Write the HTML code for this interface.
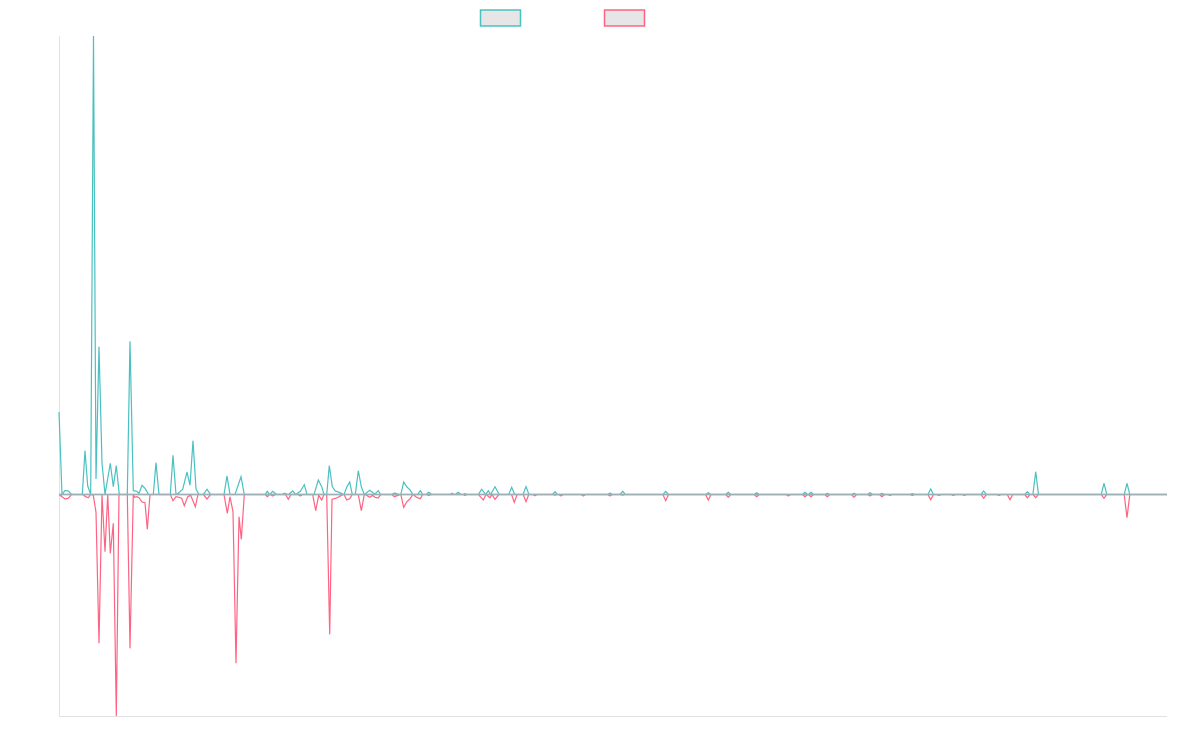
<!DOCTYPE html>
<html>
<head>
<meta charset="utf-8">
<style>
html,body{margin:0;padding:0;background:#ffffff;}
svg{display:block;}
</style>
</head>
<body>
<svg width="1200" height="750" viewBox="0 0 1200 750" xmlns="http://www.w3.org/2000/svg">
<rect width="1200" height="750" fill="#ffffff"/>
<!-- legend -->
<rect x="480.5" y="10" width="40" height="16" fill="#e6e6e6" stroke="#4bc0c0" stroke-width="1.5"/>
<rect x="604.5" y="10" width="40" height="16" fill="#e6e6e6" stroke="#ff6384" stroke-width="1.5"/>
<!-- axes -->
<line x1="59.5" y1="36" x2="59.5" y2="716" stroke="#e2e2e2" stroke-width="1"/>
<line x1="59" y1="716.5" x2="1167" y2="716.5" stroke="#e2e2e2" stroke-width="1"/>

<!-- teal series -->
<polyline fill="none" stroke="#4bc0c0" stroke-width="1.2" stroke-linejoin="miter" points="
59,412 62,494.5 65,490.5 68.3,491 71.7,494.5 82.3,494.5 85,450.7 87.7,486 90.7,494.5 93.5,36 96,479 99,346.7 102,463 105,494.5
110.3,463.3 113.3,486.7 116.3,465.7 119.3,494.5 127.3,494.5 130,341.3 133.3,490.7 136.7,491.3 139,493.3 142,485.3 145,488.3 148.7,494.5
153.3,494.5 156,462.7 159,494.5 170.3,494.5 173,455.3 176,494.5 179,492.7 182.7,489.3 187,472 190,485.3 193,440.7 196,489 199,494.5
203.3,494.5 207,489.3 210.7,494.5 224,494.5 227,476 230,494.5 235,494.5 241,476.7 244.3,494.5
265,494.5 267.3,491.3 269.7,494.5 272.7,491.3 276,494 281.5,494.5 284.3,493.3 288.3,494.5 292.7,491 295.7,494.5 300.3,491.3 304.3,484.7 307,494.5
314,494.5 318.3,480 321.7,486.7 324,494.5 326.7,494.5 329.3,465.7 332.3,486.7 335.3,491 340,492.7 344,494.5 346.7,487.3 349.7,482 352.3,494.5
355.3,494.5 358.3,470.7 361.3,486.7 364.3,494.5 366.7,492.7 369.7,490.3 373,492.7 375,494 378.3,490.7 380.7,494.5
391.5,494.5 394.3,493 397.7,494 400.8,494.5 403.7,482 406.7,486.7 410,490 413,494.5 417.5,494.5 420.3,490.7 422.7,494.5
426,494.5 428.7,492.3 431.7,494.3 449,494.5 452,493.3 455,494.5 458.3,492.3 461,494.5 462.5,494.5 465,493.5 467.5,494.5
478.3,494.5 481.7,489.3 485.7,494.5 488.3,490.7 490.7,494.5 495,486.7 499.3,494.5
508.7,494.5 511.7,487.3 514.7,494.5 523,494.5 526,486.7 529,494.5
552.2,494.5 555,491.7 557.8,494.5 607.2,494.5 610,493 612.8,494.5 619.9,494.5 622.7,491.3 625.5,494.5
662.9,494.5 665.7,491.3 668.5,494.5 705.5,494.5 708.3,492.7 711.1,494.5 725.5,494.5 728.3,492.3 731.1,494.5
753.9,494.5 756.7,492.7 759.5,494.5 802.2,494.5 805,492.3 807.8,494.5 808.2,494.5 811,492.3 813.8,494.5
824.5,494.5 827.3,493.3 830.1,494.5 851.2,494.5 854,493.3 856.8,494.5 867.2,494.5 870,492.7 872.8,494.5 879.2,494.5 882,493.3 884.8,494.5
909.5,494.5 912.3,493.5 915.1,494.5 927.9,494.5 930.7,489 933.5,494.5 980.9,494.5 983.7,491 986.5,494.5
1024.5,494.5 1027.3,491.7 1030.1,494.5 1032.9,494.5 1035.7,471.7 1038.5,494.5
1101.2,494.5 1104,483.3 1106.8,494.5 1124.2,494.5 1127,483.3 1129.8,494.5 1167,494.5"/>

<!-- pink series -->
<polyline fill="none" stroke="#ff6384" stroke-width="1.2" stroke-linejoin="miter" points="
59,494.7 62,496.7 65,499 68.3,498.3 71.7,494.5 82.3,494.5 85.7,496.7 88.3,497.7 90.7,494.5 93.3,495.3 96,512.3 99,643.3 102,494.5
105,551.7 107.7,494.5 110.3,553.3 113.3,523.3 116.3,716 119,494.5 127.3,494.5 130,648.3 133.3,494.5 134.7,497.3 136.7,496.7 139,497.7
142,502 145,502.7 147.3,529.3 150,494.5 170.3,494.5 173,500.7 176,496.7 179,497.3 181.7,498.3 184.3,505.7 187.7,496.7 190.7,495.3
195.3,506.7 198,494.5 203.3,494.5 207,499 210.7,494.5 224,494.5 227.3,513.3 230,496.7 233,511.7 236,663.3 239,516.7 241.3,539.3 244.3,494.5
265,494.5 267.3,496.7 269.7,494.5 272.7,496 276,494.5 285.5,494.5 288.3,499.3 291,494.5 297.5,494.5 300.3,496 303,494.5
312.7,494.5 315.7,510.7 318.7,495.3 321.7,500 324,494.5 326.7,494.5 329.7,634.3 332,499.3 336.7,498 341.7,495.3 344,494.5
346.7,500 349.7,498.7 352.3,494.5 358.3,494.5 361.3,510.7 364.3,494.5 366.7,495.5 369.7,497.3 372.5,495.5 375,497.3 378.3,498 380.7,494.5
391.5,494.5 394.3,496.7 397.7,495.5 400.8,494.5 403.7,507.3 406.7,502 410,498.7 413,494.5 416.7,497.3 420.3,498.7 422.7,494.5
426,494.5 428.7,495.5 431.7,494.5 462.5,494.5 465,495.5 467.5,494.5
478.3,494.5 483.3,500 486,494.5 490,497.7 492,494.5 495,499.3 499,494.5
511.5,494.5 514.3,502.3 517.1,494.5 523.2,494.5 526,501.7 528.8,494.5
532.2,494.5 535,495.7 537.8,494.5 552.2,494.5 555,495.3 557.8,494.5 558.2,494.5 561,496 563.8,494.5
580.5,494.5 583.3,496 586.1,494.5 607.2,494.5 610,496 612.8,494.5 619.9,494.5 622.7,495.3 625.5,494.5
662.9,494.5 665.7,500.7 668.5,494.5 705.5,494.5 708.3,500 711.1,494.5 725.5,494.5 728.3,497.3 731.1,494.5
753.9,494.5 756.7,496.7 759.5,494.5 785.5,494.5 788.3,496 791.1,494.5 802.2,494.5 805,496.7 807.8,494.5 808.2,494.5 811,496.7 813.8,494.5
824.5,494.5 827.3,496.7 830.1,494.5 851.2,494.5 854,497.3 856.8,494.5 867.2,494.5 870,496 872.8,494.5 879.2,494.5 882,496.7 884.8,494.5
887.2,494.5 890,495.5 892.8,494.5 909.5,494.5 912.3,495.5 915.1,494.5 927.9,494.5 930.7,499.7 933.5,494.5 936.2,494.5 939,495.5 941.8,494.5
950.5,494.5 953.3,495.5 956.1,494.5 961.5,494.5 964.3,495.5 967.1,494.5 980.9,494.5 983.7,498.3 986.5,494.5
996.2,494.5 999,495.5 1001.8,494.5 1007.2,494.5 1010,499.7 1012.8,494.5 1024.5,494.5 1027.3,497.7 1030.1,494.5
1032.9,494.5 1035.7,497.7 1038.5,494.5 1101.2,494.5 1104,498.3 1106.8,494.5 1124.2,494.5 1127,517.7 1129.8,494.5 1167,494.5"/>

<!-- overlapping baseline -->
<line x1="59" y1="494.5" x2="1167" y2="494.5" stroke="#9eafb5" stroke-width="1.8"/>
</svg>
</body>
</html>
